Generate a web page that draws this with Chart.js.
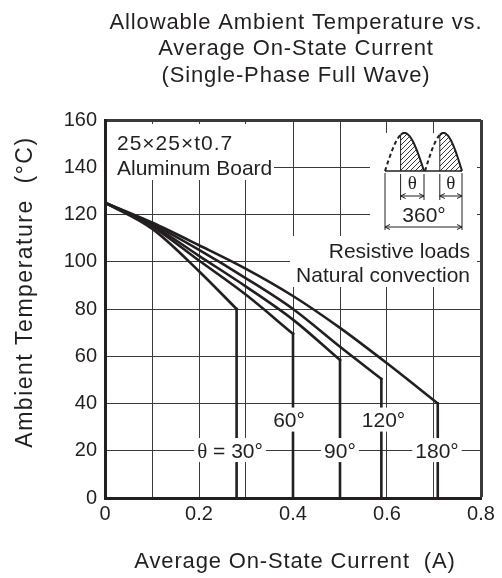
<!DOCTYPE html>
<html>
<head>
<meta charset="utf-8">
<script src="https://cdn.jsdelivr.net/npm/chart.js@4.4.0/dist/chart.umd.min.js"></script>
<style>
  html, body { margin: 0; padding: 0; background: #fff; }
</style>
</head>
<body>
<canvas id="tempChart" width="502" height="578"></canvas>
<script>
// curves: current (A) vs allowed ambient temp (°C)
const angleNames = ['θ = 30°', '60°', '90°', '120°', '180°']

const current30 = [0, 0.1, 0.2, 0.28]
const temp30 = [125, 114, 96, 80]
const current60 = [0, 0.1, 0.2, 0.3, 0.4]
const temp60 = [125, 115, 100.5, 86, 69.5]
const current90 = [0, 0.1, 0.2, 0.3, 0.4, 0.5]
const temp90 = [125, 115.5, 102.5, 89.5, 75.5, 58.4]
const current120 = [0, 0.1, 0.2, 0.3, 0.4, 0.5, 0.588]
const temp120 = [125, 116, 105, 93, 80, 64, 50.4]
const current180 = [0, 0.1, 0.2, 0.3, 0.4, 0.5, 0.6, 0.708]
const temp180 = [125, 116.6, 107, 97, 85.5, 72, 57, 40]

const xGrid = [0, 0.1, 0.2, 0.3, 0.4, 0.5, 0.6, 0.7, 0.8]
const xTickLabels = [0, 0.2, 0.4, 0.6, 0.8]
const yTicks = [0, 20, 40, 60, 80, 100, 120, 140, 160]

// where each angle label sits, in axis units
const labelX = [0.266, 0.3915, 0.5, 0.5926, 0.7064]
const labelY = [20.3, 33.2, 20.3, 33.2, 20.3]

const chartFont = "'Liberation Sans', Arial, Helvetica, sans-serif"
const serifFont = "'Liberation Serif', 'Times New Roman', serif"
const ink = '#231f20'
const gridColor = '#3a3a3a'

Chart.defaults.font.family = chartFont
Chart.defaults.color = ink

const curves = [[current30, temp30], [current60, temp60], [current90, temp90], [current120, temp120], [current180, temp180]]

const datasets = []
curves.forEach(([xs, ys], n) => {
  datasets.push({
    label: angleNames[n],
    data: xs.map((x, i) => ({ x: x, y: ys[i] })),
    showLine: true,
    borderColor: ink,
    borderWidth: 2.6,
    pointRadius: 0,
    cubicInterpolationMode: 'monotone',
    borderCapStyle: 'square'
  })
  // the curve drops straight down to zero at its current limit
  const last = xs.length - 1
  datasets.push({
    label: angleNames[n] + ' limit',
    data: [{ x: xs[last], y: ys[last] }, { x: xs[last], y: 0 }],
    showLine: true,
    borderColor: ink,
    borderWidth: 2.6,
    pointRadius: 0,
    borderCapStyle: 'square'
  })
})

function spacing(ctx, px) {
  if ('letterSpacing' in ctx) ctx.letterSpacing = px + 'px'
}

function arrowLine(ctx, x1, x2, y) {
  ctx.beginPath()
  ctx.moveTo(x1, y); ctx.lineTo(x2, y)
  ctx.moveTo(x1 + 5, y - 2.5); ctx.lineTo(x1, y); ctx.lineTo(x1 + 5, y + 2.5)
  ctx.moveTo(x2 - 5, y - 2.5); ctx.lineTo(x2, y); ctx.lineTo(x2 - 5, y + 2.5)
  ctx.stroke()
}

function hump(ctx, a, b, base, h, t0) {
  const px = t => a + t * (b - a)
  const py = t => base - h * Math.sin(Math.PI * t)
  // dashed part that is not conducting
  ctx.setLineDash([4, 3])
  ctx.lineWidth = 2
  ctx.beginPath()
  for (let t = 0; t <= t0 + 0.001; t += 0.02) {
    t === 0 ? ctx.moveTo(px(t), py(t)) : ctx.lineTo(px(t), py(t))
  }
  ctx.stroke()
  ctx.setLineDash([])
  // hatched conduction area
  ctx.save()
  ctx.beginPath()
  ctx.moveTo(px(t0), base)
  for (let t = t0; t <= 1.0001; t += 0.02) ctx.lineTo(px(t), py(t))
  ctx.closePath()
  ctx.clip()
  ctx.lineWidth = 0.9
  ctx.beginPath()
  for (let c = a - 60; c < b + 60; c += 5) {
    ctx.moveTo(c, base)
    ctx.lineTo(c + h + 5, base - h - 5)
  }
  ctx.stroke()
  ctx.restore()
  ctx.lineWidth = 2
  ctx.beginPath()
  for (let t = t0; t <= 1.0001; t += 0.02) {
    t === t0 ? ctx.moveTo(px(t), py(t)) : ctx.lineTo(px(t), py(t))
  }
  ctx.stroke()
  ctx.lineWidth = 1
  ctx.beginPath()
  ctx.moveTo(px(t0), base); ctx.lineTo(px(t0), py(t0))
  ctx.stroke()
  return px(t0)
}

const overlay = {
  id: 'overlay',
  afterDatasetsDraw(chart) {
    const ctx = chart.ctx
    const xs = chart.scales.x
    const ys = chart.scales.y
    ctx.save()
    ctx.fillStyle = '#fff'
    ctx.fillRect(107, 124, 167, 56)   // board note
    ctx.fillRect(370, 133, 107, 103)  // waveform sketch
    ctx.fillRect(290, 236, 187, 51)   // load note

    ctx.fillStyle = ink
    ctx.strokeStyle = ink

    ctx.font = `21px ${chartFont}`
    ctx.textAlign = 'left'
    ctx.textBaseline = 'alphabetic'
    spacing(ctx, 1)
    ctx.fillText('25×25×t0.7', 117, 150)
    spacing(ctx, 0)
    ctx.fillText('Aluminum Board', 117, 175)
    ctx.textAlign = 'right'
    ctx.fillText('Resistive loads', 470, 258)
    ctx.fillText('Natural convection', 470, 282)

    // waveform sketch
    const base = 171
    ctx.lineWidth = 1.5
    ctx.beginPath(); ctx.moveTo(385, base); ctx.lineTo(462, base); ctx.stroke()
    const s1 = hump(ctx, 385, 424, base, 38, 0.4)
    const s2 = hump(ctx, 425, 462, base, 38, 0.4)
    ctx.lineWidth = 1
    ctx.beginPath()
    ;[s1, 424, s2].forEach(x => { ctx.moveTo(x, 174); ctx.lineTo(x, 200) })
    ctx.moveTo(385, 173); ctx.lineTo(385, 230)
    ctx.moveTo(462, 173); ctx.lineTo(462, 230)
    ctx.stroke()
    arrowLine(ctx, s1, 424, 196)
    arrowLine(ctx, s2, 462, 196)
    arrowLine(ctx, 385, 462, 227)
    ctx.textAlign = 'center'
    ctx.font = `19px ${serifFont}`
    ctx.fillText('θ', (s1 + 424) / 2, 189)
    ctx.fillText('θ', (s2 + 462) / 2, 189)
    ctx.font = `21px ${chartFont}`
    ctx.fillText('360°', 424, 222)

    // angle labels over the drop lines
    angleNames.forEach((name, i) => {
      const cx = xs.getPixelForValue(labelX[i])
      const cy = ys.getPixelForValue(labelY[i])
      const parts = name.startsWith('θ')
        ? [['θ', `21px ${serifFont}`], [name.slice(1), `21px ${chartFont}`]]
        : [[name, `21px ${chartFont}`]]
      let w = 0
      parts.forEach(p => { ctx.font = p[1]; w += ctx.measureText(p[0]).width })
      ctx.fillStyle = '#fff'
      ctx.fillRect(cx - w / 2 - 3, cy - 12, w + 6, 24)
      ctx.fillStyle = ink
      ctx.textAlign = 'left'
      let x = cx - w / 2
      parts.forEach(p => {
        ctx.font = p[1]
        ctx.fillText(p[0], x, cy + 7.5)
        x += ctx.measureText(p[0]).width
      })
    })
    ctx.restore()
  },
  afterDraw(chart) {
    const ctx = chart.ctx
    const area = chart.chartArea
    const mid = (area.left + area.right) / 2 + 3
    ctx.save()
    ctx.fillStyle = ink
    ctx.font = `22px ${chartFont}`
    ctx.textAlign = 'center'
    ctx.textBaseline = 'alphabetic'
    spacing(ctx, 0.85)
    ctx.fillText('Allowable Ambient Temperature vs.', mid, 28.5)
    ctx.fillText('Average On-State Current', mid, 55)
    ctx.fillText('(Single-Phase Full Wave)', mid, 81.5)
    ctx.fillText('Average On-State Current  (A)', mid - 1, 568)
    ctx.font = `23px ${chartFont}`
    spacing(ctx, 1.5)
    ctx.translate(32, 292)
    ctx.rotate(-Math.PI / 2)
    ctx.fillText('Ambient Temperature  (°C)', 0, 0)
    ctx.restore()
  }
}

const canvas = document.getElementById('tempChart')
const ctx = canvas.getContext('2d')

const myChart = new Chart(ctx, {
  type: 'scatter',
  data: { datasets: datasets },
  options: {
    responsive: false,
    animation: false,
    layout: { padding: { top: 120, right: 21, left: 0, bottom: 0 } },
    plugins: {
      legend: { display: false },
      tooltip: { enabled: false },
      title: { display: false }
    },
    scales: {
      x: {
        type: 'linear',
        min: 0,
        max: 0.8,
        afterBuildTicks: s => { s.ticks = xGrid.map(v => ({ value: v })) },
        afterFit: s => { s.height = 80 },
        ticks: {
          autoSkip: false,
          maxRotation: 0,
          padding: 4,
          color: ink,
          font: { size: 20 },
          callback: v => {
            const r = Math.round(v * 10) / 10
            return xTickLabels.includes(r) ? String(r) : ''
          }
        },
        grid: {
          color: gridColor,
          drawTicks: false,
          lineWidth: c => (c.tick && Math.abs(c.tick.value - 0.8) < 1e-6) ? 3 : 1
        },
        border: { color: ink, width: 3 }
      },
      y: {
        type: 'linear',
        min: 0,
        max: 160,
        afterBuildTicks: s => { s.ticks = yTicks.map(v => ({ value: v })) },
        afterFit: s => { s.width = 105 },
        ticks: {
          padding: 8,
          color: ink,
          font: { size: 20 }
        },
        grid: {
          color: gridColor,
          drawTicks: false,
          lineWidth: c => (c.tick && c.tick.value === 160) ? 3 : 1
        },
        border: { color: ink, width: 3 }
      }
    }
  },
  plugins: [overlay]
})
</script>
</body>
</html>
